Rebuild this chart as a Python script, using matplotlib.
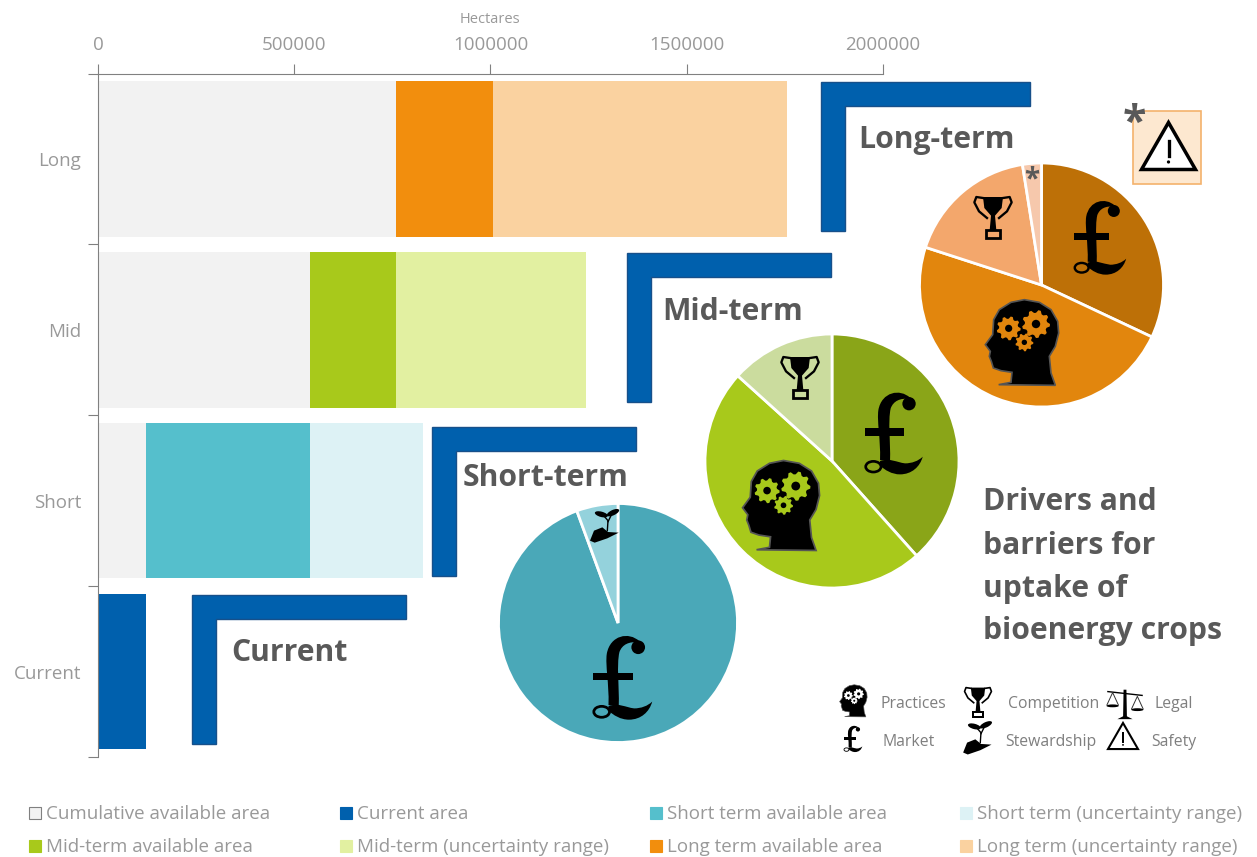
import numpy as np
import matplotlib
matplotlib.use("Agg")
from matplotlib import pyplot as plt
from matplotlib.patches import Polygon, Rectangle, Circle, Ellipse, PathPatch
from matplotlib.path import Path

plt.rcParams['font.family'] = ['Open Sans', 'DejaVu Sans']

# bar data (hectares), top to bottom
categories = ['Long', 'Mid', 'Short', 'Current']
cumulative = [759000, 540000, 122000, 0]
available = [247000, 219000, 418000, 0]
uncertainty = [749000, 484000, 288000, 0]
current = [0, 0, 0, 122000]
x_ticks = [0, 500000, 1000000, 1500000, 2000000]

# pie data, percent, clockwise from 12 o'clock
long_pie = [32.0, 48.0, 17.5, 2.5]
mid_pie = [38.4, 48.3, 13.3]
short_pie = [94.4, 5.6]

legend_labels = ['Cumulative available area', 'Current area', 'Short term available area',
                 'Short term (uncertainty range)', 'Mid-term available area',
                 'Mid-term (uncertainty range)', 'Long term available area',
                 'Long term (uncertainty range)']

GREY = '#f2f2f2'
BLUE = '#0060ad'
avail_cols = ['#f28e0d', '#a8c91b', '#55bfcc', BLUE]
unc_cols = ['#fad2a0', '#e2f0a1', '#ddf2f5', BLUE]
legend_cols = [GREY, BLUE, '#55bfcc', '#ddf2f5', '#a8c91b', '#e2f0a1', '#f28e0d', '#fad2a0']
TXT = '#999999'
DARK = '#595959'

W, H = 1257, 857
fig = plt.figure(figsize=(W / 100, H / 100), dpi=100)


def px_axes(x0, y0, x1, y1, **kw):
    return fig.add_axes([x0 / W, 1 - y1 / H, (x1 - x0) / W, (y1 - y0) / H], **kw)


ax = px_axes(98, 73.5, 883, 757)
y = np.arange(len(categories))
ax.barh(y, cumulative, height=0.91, color=GREY)
ax.barh(y, available, left=cumulative, height=0.91, color=avail_cols)
ax.barh(y, uncertainty, left=np.add(cumulative, available), height=0.91, color=unc_cols)
ax.barh(y, current, height=0.91, color=BLUE)
ax.set_xlim(0, 2000000)
ax.set_ylim(3.5, -0.5)
ax.xaxis.tick_top()
ax.set_xticks(x_ticks)
ax.set_xticklabels([str(v) for v in x_ticks], color=TXT, fontsize=13.5)
ax.set_yticks(np.arange(-0.5, 4))
ax.set_yticklabels([])
ax.set_yticks(y, categories, minor=True, color=TXT, fontsize=13.5)
ax.tick_params(axis='y', which='minor', length=0, pad=12)
ax.tick_params(axis='y', which='major', length=7, color='#808080')
ax.tick_params(axis='x', length=7, color='#808080', pad=7)
for s in ['right', 'bottom']:
    ax.spines[s].set_visible(False)
for s in ['top', 'left']:
    ax.spines[s].set_color('#808080')
ax.set_xlabel('Hectares', color=TXT, fontsize=10.5, labelpad=6)
ax.xaxis.set_label_position('top')
ax.xaxis.set_label_coords((490 - 98) / 785, 1 + 50.5 / 683.5)


def pie(cx, cy, r, vals, cols):
    a = px_axes(cx - r, cy - r, cx + r, cy + r)
    a.pie(vals, colors=cols, startangle=90, counterclock=False, radius=1,
          wedgeprops=dict(edgecolor='white', linewidth=2))
    a.set_xlim(-1, 1)
    a.set_ylim(-1, 1)
    a.set_zorder(2)


pie(1041.5, 285, 122, long_pie, ['#bd7007', '#e2860d', '#f3a76c', '#f6c8ac'])
pie(832, 461, 127, mid_pie, ['#8aa518', '#a8c91b', '#cbdc9e'])
pie(618, 623, 119.5, short_pie, ['#4aa8b8', '#94d2dc'])

# overlay in pixel coordinates for the annotations
ov = fig.add_axes([0, 0, 1, 1], zorder=3)
ov.set_xlim(0, W)
ov.set_ylim(H, 0)
ov.axis('off')
ov.patch.set_alpha(0)


def bracket(x0, y0, x1, y1):
    pts = [(x0, y0), (x1, y0), (x1, y0 + 24), (x0 + 24, y0 + 24), (x0 + 24, y1), (x0, y1)]
    ov.add_patch(Polygon(pts, closed=True, fc=BLUE, ec='#17508a', lw=1))


bracket(821, 82, 1030, 231)
bracket(627, 253, 831, 402)
bracket(432, 427, 636, 576)
bracket(192, 595, 406, 744)

for tx, ty, s in [(858, 139.5, 'Long-term'), (662, 311.5, 'Mid-term'), (463, 478, 'Short-term'), (231, 653, 'Current')]:
    ov.text(tx, ty, s, color=DARK, fontsize=21.7, fontweight='bold', ha='left', va='center')

for ty, s in [(501.5, 'Drivers and'), (545.5, 'barriers for'), (588.5, 'uptake of'), (631.5, 'bioenergy crops')]:
    ov.text(983, ty, s, color=DARK, fontsize=21.7, fontweight='bold', ha='left', va='center')


def pound(cx, cy, h):
    s = h / 243

    def p(a, b):
        return (cx + (a - 131) * s, cy + (b - 176) * s)
    M, C, L, Z = Path.MOVETO, Path.CURVE4, Path.LINETO, Path.CLOSEPOLY
    stem = [p(*q) for q in [(180, 68), (150, 40), (95, 50), (85, 105), (80, 140), (92, 190), (90, 255),
                            (120, 258), (122, 200), (113, 140), (122, 100), (130, 78), (150, 68), (180, 72), (180, 72)]]
    codes = [M, C, C, C, C, C, C, L, C, C, C, C, C, C, Z]
    ov.add_patch(PathPatch(Path(stem, codes), fc='black', ec='none'))
    swoosh = [p(*q) for q in [(90, 258), (120, 248), (140, 262), (165, 265), (185, 265), (205, 258), (218, 245),
                              (210, 275), (185, 298), (150, 298), (125, 298), (105, 285), (90, 272), (90, 258)]]
    codes = [M, C, C, C, C, C, C, C, C, C, C, C, C, Z]
    ov.add_patch(PathPatch(Path(swoosh, codes), fc='black', ec='none'))
    ov.add_patch(Circle(p(177, 86), 20 * s, fc='black', ec='none'))
    ov.add_patch(Ellipse(p(70, 275), 46 * s, 32 * s, fc='none', ec='black', lw=8 * s * 0.72))
    ov.add_patch(Rectangle(p(45, 160), 117 * s, 22 * s, fc='black', ec='none'))


def gear(cx, cy, r, col, n=9):
    ang = np.linspace(0, 2 * np.pi, n * 4, endpoint=False)
    rad = np.where((np.arange(n * 4) % 4) < 2, r, r * 0.8)
    ov.add_patch(Polygon(np.c_[cx + rad * np.cos(ang), cy + rad * np.sin(ang)], fc=col, ec='none'))
    ov.add_patch(Circle((cx, cy), r * 0.3, fc='black', ec='none'))


HEAD = [(298, 885), (335, 878), (338, 848), (305, 843), (282, 835), (276, 815), (270, 800), (273, 785),
        (258, 765), (280, 735), (283, 690), (300, 660), (335, 638), (375, 630), (420, 638), (455, 660),
        (475, 695), (478, 730), (468, 770), (450, 800), (455, 850), (468, 887)]


def head(cx, cy, s, col):
    pts = [(cx + (a - 365) * s, cy + (b - 760) * s) for a, b in HEAD]
    ov.add_patch(Polygon(pts, fc='black', ec='#555555', lw=1.2 * s * 3))
    gear(cx + (328 - 365) * s, cy + (716 - 760) * s, 36 * s, col)
    gear(cx + (410 - 365) * s, cy + (703 - 760) * s, 42 * s, col)
    gear(cx + (375 - 365) * s, cy + (758 - 760) * s, 27 * s, col)


def trophy(cx, cy, s):
    def p(a, b):
        return (cx + (a - 280) * s, cy + (b - 382) * s)
    ov.add_patch(Polygon([p(250, 322), p(310, 322), p(306, 355), p(286, 378), p(290, 422), p(270, 422),
                          p(274, 378), p(254, 355)], fc='black', ec='none'))
    for sign in [1, -1]:
        xs = [280 + sign * v for v in (-30, -50, -56, -42, -18)]
        pts = [p(a, b) for a, b in zip(xs, (325, 322, 338, 365, 385))]
        ov.plot(*zip(*pts), color='black', lw=5 * s)
    (bx, by) = p(258, 422)
    ov.add_patch(Rectangle((bx, by), 44 * s, 22 * s, fc='none', ec='black', lw=6 * s))


def plant(cx, cy, s):
    def p(a, b):
        return (cx + (a - 340) * s, cy + (b - 108) * s)
    ov.add_patch(Polygon([p(298, 152), p(310, 122), p(335, 112), p(352, 126), p(384, 128), p(350, 145), p(312, 158)],
                         fc='black', ec='none'))
    ov.plot(*zip(p(350, 122), p(352, 92), p(340, 78)), color='black', lw=3 * s)
    ov.plot(*zip(p(352, 95), p(362, 75)), color='black', lw=3 * s)
    w, h = 40 * s, 16 * s
    ov.add_patch(Ellipse(p(332, 73), w, h, angle=15, fc='black', ec='none'))
    ov.add_patch(Ellipse(p(367, 68), w, h, angle=-25, fc='black', ec='none'))


def warn(cx, cy, w, lw):
    h = w * 0.87
    ov.add_patch(Polygon([(cx, cy - h / 2), (cx + w / 2, cy + h / 2), (cx - w / 2, cy + h / 2)],
                         fc='white', ec='black', lw=lw, joinstyle='miter'))
    ov.plot([cx, cx], [cy - h * 0.1, cy + h * 0.22], color='black', lw=lw * 0.95)
    ov.add_patch(Circle((cx, cy + h * 0.34), w * 0.03, fc='black', ec='none'))


def scales(cx, cy, s):
    ov.plot([cx - 18 * s, cx + 18 * s], [cy - 12 * s, cy - 8 * s], color='black', lw=1)
    ov.add_patch(Polygon([(cx - 1.5 * s, cy - 14 * s), (cx + 1.5 * s, cy - 14 * s), (cx + 2 * s, cy + 14 * s),
                          (cx + 8 * s, cy + 17 * s), (cx - 8 * s, cy + 17 * s), (cx - 2 * s, cy + 14 * s)],
                         fc='black', ec='none'))
    for dx, dy in [(-13, -11), (13, -7)]:
        a, b = cx + dx * s, cy + dy * s
        ov.plot([a - 6 * s, a, a + 6 * s], [b + 13 * s, b, b + 13 * s], color='#333333', lw=0.7)
        ov.add_patch(Ellipse((a, b + 14 * s), 13 * s, 3 * s, fc='black', ec='none'))


# pie icons
pound(1100, 238, 73)
pound(893.7, 433.7, 81)
pound(622.5, 678, 83)
head(1021, 343, 1 / 3, '#e2860d')
head(780, 506, 0.35, '#a8c91b')
trophy(993, 217, 1 / 3)
trophy(800, 377, 1 / 3)
plant(604, 526, 1 / 3)
ov.text(1032, 180, '*', color=DARK, fontsize=20, fontweight='bold', ha='center', va='center')

# warning box
ov.add_patch(Rectangle((1133, 111), 68, 73, fc='#fde8d0', ec='#f4b26c', lw=1.2))
warn(1168.5, 146, 54, 2.5)
ov.text(1134, 124, '*', color=DARK, fontsize=31, fontweight='bold', ha='center', va='center')

# icon key
head(853, 701, 0.125, 'white')
pound(853, 739, 26)
trophy(978, 702, 0.24)
plant(977, 738, 0.33)
scales(1125, 703, 0.95)
warn(1123, 736, 30, 1.5)
for tx, ty, s in [(880, 703.5, 'Practices'), (883, 741.5, 'Market'), (1008, 703.5, 'Competition'),
                  (1005, 741.5, 'Stewardship'), (1155, 703.5, 'Legal'), (1151, 741.5, 'Safety')]:
    ov.text(tx, ty, s, color='#7f7f7f', fontsize=11.3, ha='left', va='center')

# bottom legend
col_x = [29, 340, 650, 960]
row_y = [813, 846]
for i, (lab, c) in enumerate(zip(legend_labels, legend_cols)):
    lx, ly = col_x[i % 4], row_y[i // 4]
    ec = '#808080' if i == 0 else c
    ov.add_patch(Rectangle((lx, ly - 6), 12, 12, fc=c, ec=ec, lw=0.8))
    ov.text(lx + 17, ly + 1, lab, color=TXT, fontsize=13.5, ha='left', va='center')

plt.savefig('out.png', dpi=100)
